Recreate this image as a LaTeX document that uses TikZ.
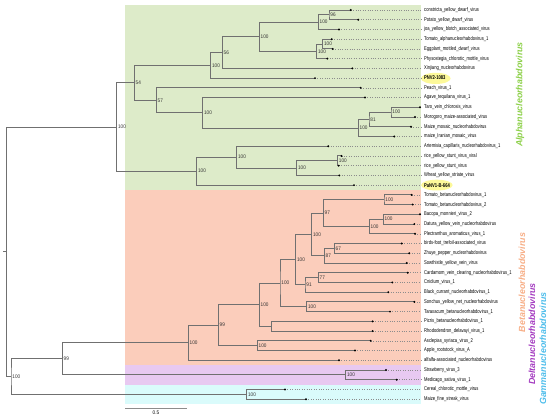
\documentclass[tikz,border=0pt]{standalone}
\usepackage{fontspec}
\setmainfont{Liberation Sans}
\newfontfamily\leaffont[FakeStretch=0.75]{Liberation Sans}
\newfontfamily\bootfont[FakeStretch=0.9]{Liberation Sans}
\usepackage{xcolor}
\usepackage{tikz}
\usetikzlibrary{positioning}

\definecolor{alphabg}{HTML}{DDEBC9}
\definecolor{betabg}{HTML}{FBCDBB}
\definecolor{deltabg}{HTML}{E8C9F1}
\definecolor{gammabg}{HTML}{DAFBFB}
\definecolor{alphatx}{HTML}{8DD04A}
\definecolor{betatx}{HTML}{F7AE86}
\definecolor{deltatx}{HTML}{A43CC0}
\definecolor{gammatx}{HTML}{4DBDEB}
\definecolor{hlyellow}{HTML}{FDF99A}
\definecolor{branchgray}{HTML}{707070}

\begin{document}
\begin{tikzpicture}[x=1pt, y=-1pt,
    edge/.style={draw=branchgray, line width=0.9pt},
    tipline/.style={draw=black!45, line width=0.5pt, dash pattern=on 0.6pt off 1.8pt},
    tipdot/.style={fill=black},
    leaf/.style={anchor=west, inner xsep=3pt, inner ysep=0pt, font=\leaffont\fontsize{5.5}{6}\selectfont},
    boot/.style={anchor=west, inner sep=1.2pt, font=\bootfont\fontsize{5.2}{6}\selectfont, text=black!80},
    clade/.style={rotate=90, inner sep=0pt, font=\bfseries\itshape\fontsize{8.9}{10}\selectfont}]
    \useasboundingbox (0,0) rectangle (550,420);

    % clade backgrounds
    \fill[alphabg] (125,4.9) rectangle (421,190);
    \fill[betabg] (125,190) rectangle (421,365.2);
    \fill[deltabg] (125,365.2) rectangle (421,384.6);
    \fill[gammabg] (125,384.6) rectangle (421,404.1);

    % highlighted isolates
    \fill[hlyellow] (435.8,78.4) ellipse (14.8 and 5.6);
    \fill[hlyellow] (436.9,185.1) ellipse (15.8 and 5.4);

    % leaves: tip x / name
    \foreach \tx/\name [count=\i] in {
        350.7/constricta\_yellow\_dwarf\_virus,
        358.3/Potato\_yellow\_dwarf\_virus,
        339/joa\_yellow\_blotch\_associated\_virus,
        331.7/Tomato\_alphanucleorhabdovirus\_1,
        332.7/Eggplant\_mottled\_dwarf\_virus,
        327.3/Physostegia\_chlorotic\_mottle\_virus,
        352.3/Xinjiang\_nucleorhabdovirus,
        315/{\bfseries PNV2-1083},
        360.7/Peach\_virus\_1,
        365/Agave\_tequilana\_virus\_1,
        420/Taro\_vein\_chlorosis\_virus,
        415/Morogoro\_maize-associated\_virus,
        411/Maize\_mosaic\_nucleorhabdovirus,
        394.3/maize\_Iranian\_mosaic\_virus,
        328.3/Artemisia\_capillaris\_nucleorhabdovirus\_1,
        341.5/rice\_yellow\_stunt\_virus\_viral,
        338.7/rice\_yellow\_stunt\_virus,
        339.3/Wheat\_yellow\_striate\_virus,
        354/{\bfseries PaNV1-B-664},
        411.7/Tomato\_betanucleorhabdovirus\_1,
        412.7/Tomato\_betanucleorhabdovirus\_2,
        420/Bacopa\_monnieri\_virus\_2,
        414.3/Datura\_yellow\_vein\_nucleorhabdovirus,
        415/Plectranthus\_aromaticus\_virus\_1,
        401.7/birds-foot\_trefoil-associated\_virus,
        409.3/Zhuye\_pepper\_nucleorhabdovirus,
        406.7/Sowthistle\_yellow\_vein\_virus,
        407.7/Cardamom\_vein\_clearing\_nucleorhabdovirus\_1,
        392.3/Cnidium\_virus\_1,
        388.3/Black\_currant\_nucleorhabdovirus\_1,
        414.3/Sonchus\_yellow\_net\_nucleorhabdovirus,
        390/Taraxacum\_betanucleorhabdovirus\_1,
        372.7/Picris\_betanucleorhabdovirus\_1,
        372.7/Rhododendron\_delavayi\_virus\_1,
        370.7/Asclepias\_syriaca\_virus\_2,
        355/Apple\_rootstock\_virus\_A,
        339/alfalfa-associated\_nucleorhabdovirus,
        386/Strawberry\_virus\_3,
        396.7/Medicago\_sativa\_virus\_1,
        285/Cereal\_chlorotic\_mottle\_virus,
        306/Maize\_fine\_streak\_virus}{
        \coordinate (t\i) at (\tx,{10+(\i-1)*9.73});
        \node[leaf] (l\i) at (421,{10+(\i-1)*9.73}) {\name};
        \draw[tipline] (t\i) -- (l\i.west);
    }

    % alphanucleorhabdoviruses
    \coordinate (n96) at (329,14.87);
    \coordinate (na1) at (318.3,22.17);
    \coordinate (na2) at (322.7,44.06);
    \coordinate (na3) at (316.7,51.36);
    \coordinate (na4) at (259.3,36.76);
    \coordinate (n56) at (222.3,52.57);
    \coordinate (na5) at (210.7,65.34);
    \coordinate (na6) at (391,112.17);
    \coordinate (n81) at (369,119.47);
    \coordinate (na7) at (358.3,127.98);
    \coordinate (na8) at (202.7,112.78);
    \coordinate (n57) at (156.3,100.31);
    \coordinate (n54) at (134.3,82.83);
    \coordinate (na9) at (337.5,160.82);
    \coordinate (na10) at (296.7,168.12);
    \coordinate (na11) at (236.7,157.17);
    \coordinate (na12) at (196.7,171.16);
    \coordinate (nalpha) at (116.7,127);

    % beta-, delta- and gammanucleorhabdoviruses
    \coordinate (nb1) at (384,199.74);
    \coordinate (nb2) at (383.3,219.2);
    \coordinate (nb3) at (369.3,226.5);
    \coordinate (n97) at (323.3,213.12);
    \coordinate (n67) at (334.3,248.39);
    \coordinate (n87) at (324.3,255.69);
    \coordinate (nb4) at (311.7,234.4);
    \coordinate (n77) at (318.3,277.58);
    \coordinate (n91) at (305,284.88);
    \coordinate (nb5) at (295.7,259.64);
    \coordinate (nb6) at (306.7,306.77);
    \coordinate (nb7) at (280,283.2);
    \coordinate (nb8) at (271.7,326.23);
    \coordinate (nb9) at (259.3,304.72);
    \coordinate (nb10) at (257.3,345.69);
    \coordinate (n99b) at (218.3,325.2);
    \coordinate (nbeta) at (188.3,342.74);
    \coordinate (ndelta) at (345.7,374.88);
    \coordinate (n99) at (62.3,358.81);
    \coordinate (ngamma) at (246.7,394.34);
    \coordinate (nbg) at (11,376.57);
    \coordinate (nroot) at (6.7,251.79);
    \coordinate (rootstub) at (3,251.79);

    \draw[edge] (t1) -| (n96) |- (t2);
    \draw[edge] (n96) -| (na1) |- (t3);
    \draw[edge] (t4) -| (na2) |- (t5);
    \draw[edge] (na2) -| (na3) |- (t6);
    \draw[edge] (na1) -| (na4) |- (na3);
    \draw[edge] (na4) -| (n56) |- (t7);
    \draw[edge] (n56) -| (na5) |- (t8);
    \draw[edge] (t11) -| (na6) |- (t12);
    \draw[edge] (na6) -| (n81) |- (t13);
    \draw[edge] (n81) -| (na7) |- (t14);
    \draw[edge] (t10) -| (na8) |- (na7);
    \draw[edge] (t9) -| (n57) |- (na8);
    \draw[edge] (na5) -| (n54) |- (n57);
    \draw[edge] (t16) -| (na9) |- (t17);
    \draw[edge] (na9) -| (na10) |- (t18);
    \draw[edge] (t15) -| (na11) |- (na10);
    \draw[edge] (na11) -| (na12) |- (t19);
    \draw[edge] (n54) -| (nalpha) |- (na12);

    \draw[edge] (t20) -| (nb1) |- (t21);
    \draw[edge] (t22) -| (nb2) |- (t23);
    \draw[edge] (nb2) -| (nb3) |- (t24);
    \draw[edge] (nb1) -| (n97) |- (nb3);
    \draw[edge] (t25) -| (n67) |- (t26);
    \draw[edge] (n67) -| (n87) |- (t27);
    \draw[edge] (n97) -| (nb4) |- (n87);
    \draw[edge] (t28) -| (n77) |- (t29);
    \draw[edge] (n77) -| (n91) |- (t30);
    \draw[edge] (nb4) -| (nb5) |- (n91);
    \draw[edge] (t31) -| (nb6) |- (t32);
    \draw[edge] (nb5) -| (nb7) |- (nb6);
    \draw[edge] (t33) -| (nb8) |- (t34);
    \draw[edge] (nb7) -| (nb9) |- (nb8);
    \draw[edge] (t35) -| (nb10) |- (t36);
    \draw[edge] (nb9) -| (n99b) |- (nb10);
    \draw[edge] (n99b) -| (nbeta) |- (t37);
    \draw[edge] (t38) -| (ndelta) |- (t39);
    \draw[edge] (nbeta) -| (n99) |- (ndelta);
    \draw[edge] (t40) -| (ngamma) |- (t41);
    \draw[edge] (n99) -| (nbg) |- (ngamma);
    \draw[edge] (nalpha) -| (nroot) |- (nbg);
    \draw[edge] (rootstub) -- (nroot);

    \foreach \i in {1,...,41}
        \fill[tipdot] (t\i) circle (1.1);

    % bootstrap values
    \foreach \n/\v in {n96/96, na1/100, na2/100, na3/100, na4/100, n56/56,
        na5/100, na6/100, n81/81, na7/100, na8/100, n57/57, n54/54, na9/100,
        na10/100, na11/100, na12/100, nalpha/100, nb1/100, nb2/100, nb3/100,
        n97/97, n67/67, n87/87, nb4/100, n77/77, n91/91, nb5/100, nb6/100,
        nb7/100, nb9/100, nb10/100, n99b/99, nbeta/100, ndelta/100, n99/99,
        ngamma/100, nbg/100}
        \node[boot] (b\n) at (\n) {\v};

    % scale bar
    \coordinate (sb0) at (125,408);
    \coordinate (sb1) at (187,408);
    \draw[draw=black!45, line width=0.9pt] (sb0) -- (sb1) coordinate[midway] (sbm);
    \node[below=2.5pt of sbm, inner sep=0pt, font=\bootfont\fontsize{5.2}{6}\selectfont] (sblab) {0.5};

    % genera
    \node[clade, text=alphatx] (alpha) at (520,94.5) {Alphanucleorhabdovirus};
    \node[clade, text=betatx] (beta) at (522,282.5) {Betanucleorhabdovirus};
    \node[clade, text=deltatx] (delta) at (532,334) {Deltanucleorhabdovirus};
    \node[clade, text=gammatx] (gamma) at (543,348.5) {Gammanucleorhabdovirus};
\end{tikzpicture}
\end{document}
